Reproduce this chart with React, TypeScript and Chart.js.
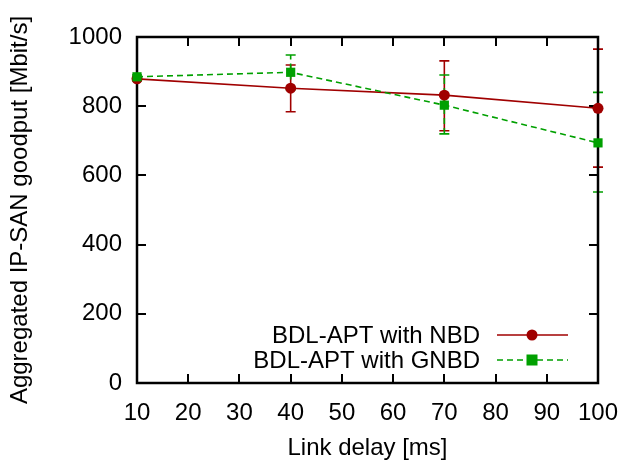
import React, { useEffect, useRef } from "react";
import { Chart, registerables } from "chart.js";

Chart.register(...registerables);

const delays = [10, 40, 70, 100];
const nbdMean = [879, 852, 832, 794];
const nbdLow = [874, 784, 729, 624];
const nbdHigh = [884, 919, 931, 965];
const gnbdMean = [885, 898, 803, 694];
const gnbdLow = [880, 848, 720, 552];
const gnbdHigh = [890, 948, 890, 840];
const seriesNames = ["BDL-APT with NBD", "BDL-APT with GNBD"];
const xTitle = "Link delay [ms]";
const yTitle = "Aggregated IP-SAN goodput [Mbit/s]";

const RED = "#a00000";
const GREEN = "#00a000";
const FONT = "'Liberation Sans', Arial, Helvetica, sans-serif";
const FS = 24;

const errorPlugin = {
  id: "gnuplotExtras",
  beforeDatasetsDraw(chart: any) {
    const ctx = chart.ctx;
    const xs = chart.scales.x;
    const ys = chart.scales.y;
    const a = chart.chartArea;
    ctx.save();
    // error bars
    const sets = [
      { low: nbdLow, high: nbdHigh, color: RED, dash: [] as number[] },
      { low: gnbdLow, high: gnbdHigh, color: GREEN, dash: [6, 4] },
    ];
    sets.forEach((s) => {
      ctx.strokeStyle = s.color;
      ctx.lineWidth = 1.6;
      delays.forEach((d, i) => {
        const x = xs.getPixelForValue(d);
        const y1 = ys.getPixelForValue(s.low[i]);
        const y2 = ys.getPixelForValue(s.high[i]);
        ctx.setLineDash(s.dash);
        ctx.beginPath();
        ctx.moveTo(x, y1);
        ctx.lineTo(x, y2);
        ctx.stroke();
        ctx.setLineDash([]);
        ctx.beginPath();
        ctx.moveTo(x - 5, y1);
        ctx.lineTo(x + 5, y1);
        ctx.moveTo(x - 5, y2);
        ctx.lineTo(x + 5, y2);
        ctx.stroke();
      });
    });

    // frame and inward ticks
    ctx.strokeStyle = "#000";
    ctx.lineWidth = 2;
    ctx.setLineDash([]);
    const tl = 9;
    ctx.beginPath();
    xs.ticks.forEach((t: any) => {
      const x = Math.round(xs.getPixelForValue(t.value));
      ctx.moveTo(x, a.bottom);
      ctx.lineTo(x, a.bottom - tl);
      ctx.moveTo(x, a.top);
      ctx.lineTo(x, a.top + tl);
    });
    ys.ticks.forEach((t: any) => {
      const y = Math.round(ys.getPixelForValue(t.value));
      ctx.moveTo(a.left, y);
      ctx.lineTo(a.left + tl, y);
      ctx.moveTo(a.right, y);
      ctx.lineTo(a.right - tl, y);
    });
    ctx.stroke();
    ctx.lineWidth = 2.5;
    ctx.strokeRect(a.left, a.top, a.right - a.left, a.bottom - a.top);
    ctx.restore();
  },
  afterDatasetsDraw(chart: any) {
    const ctx = chart.ctx;
    ctx.save();
    // legend
    const rows = [
      { name: seriesNames[0], color: RED, dash: [] as number[], shape: "circle" },
      { name: seriesNames[1], color: GREEN, dash: [6, 4], shape: "square" },
    ];
    const textRight = 480;
    const x1 = 497;
    const x2 = 568;
    const xm = 532;
    ctx.font = `${FS}px ${FONT}`;
    ctx.textAlign = "right";
    ctx.textBaseline = "middle";
    rows.forEach((r, i) => {
      const y = 335 + i * 25;
      ctx.fillStyle = "#000";
      ctx.fillText(r.name, textRight, y + 1);
      ctx.strokeStyle = r.color;
      ctx.lineWidth = 1.6;
      ctx.setLineDash(r.dash);
      ctx.beginPath();
      ctx.moveTo(x1, y);
      ctx.lineTo(x2, y);
      ctx.stroke();
      ctx.setLineDash([]);
      ctx.fillStyle = r.color;
      if (r.shape === "circle") {
        ctx.beginPath();
        ctx.arc(xm, y, 5.5, 0, Math.PI * 2);
        ctx.fill();
      } else {
        ctx.fillRect(xm - 5.5, y - 5.5, 11, 11);
      }
    });
    ctx.restore();
  },
};

export default function App() {
  const ref = useRef<HTMLCanvasElement>(null);
  useEffect(() => {
    if (!ref.current) return;
    const chart = new Chart(ref.current, {
      type: "line",
      data: {
        datasets: [
          {
            label: seriesNames[0],
            data: delays.map((d, i) => ({ x: d, y: nbdMean[i] })),
            borderColor: RED,
            backgroundColor: RED,
            borderWidth: 1.6,
            pointStyle: "circle",
            pointRadius: 5.5,
            pointBorderWidth: 0,
            pointHoverRadius: 5.5,
            order: 1,
            clip: false as any,
          },
          {
            label: seriesNames[1],
            data: delays.map((d, i) => ({ x: d, y: gnbdMean[i] })),
            borderColor: GREEN,
            backgroundColor: GREEN,
            borderWidth: 1.6,
            borderDash: [6, 4],
            pointStyle: "rect",
            pointRadius: 6.5,
            pointBorderWidth: 0,
            pointHoverRadius: 6.5,
            order: 0,
            clip: false as any,
          },
        ],
      },
      options: {
        responsive: false,
        animation: false,
        events: [],
        layout: { padding: { top: 37, right: 26, left: 0, bottom: 0 } },
        plugins: { legend: { display: false }, tooltip: { enabled: false } },
        scales: {
          x: {
            type: "linear",
            min: 10,
            max: 100,
            ticks: {
              stepSize: 10,
              color: "#000",
              padding: 16,
              maxRotation: 0,
              font: { family: FONT, size: FS },
              callback: (v: any) => String(v),
            },
            grid: { display: false, drawTicks: false },
            border: { display: false },
            title: {
              display: true,
              text: xTitle,
              color: "#000",
              font: { family: FONT, size: FS },
              padding: { top: 0, bottom: -2 },
            },
            afterFit(scale: any) {
              scale.height = 78;
              scale.paddingLeft = 0;
              scale.paddingRight = 0;
            },
          },
          y: {
            type: "linear",
            min: 0,
            max: 1000,
            ticks: {
              stepSize: 200,
              color: "#000",
              padding: 15,
              font: { family: FONT, size: FS },
              callback: (v: any) => String(v),
            },
            grid: { display: false, drawTicks: false },
            border: { display: false },
            title: {
              display: true,
              text: yTitle,
              color: "#000",
              font: { family: FONT, size: FS },
              padding: { top: 6, bottom: 0 },
            },
            afterFit(scale: any) {
              scale.width = 137;
              scale.paddingTop = 0;
              scale.paddingBottom = 0;
            },
          },
        },
      },
      plugins: [errorPlugin],
    });
    return () => chart.destroy();
  }, []);
  return (
    <div style={{ position: "fixed", left: 0, top: 0, width: 624, height: 461, background: "#fff" }}>
      <canvas ref={ref} width={624} height={461} />
    </div>
  );
}
